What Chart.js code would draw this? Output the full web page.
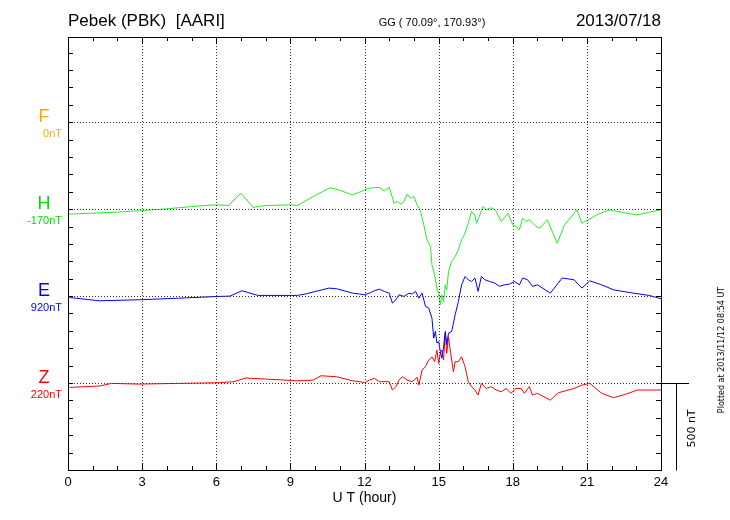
<!DOCTYPE html>
<html><head><meta charset="utf-8">
<script src="https://cdn.jsdelivr.net/npm/chart.js@4/dist/chart.umd.min.js"></script>
<style>html,body{margin:0;background:#fff}#w{width:730px;height:520px}</style></head>
<body><div id="w"><canvas id="c"></canvas></div>
<script>
const xTicks=[0,3,6,9,12,15,18,21,24];
const hH=[0,1,2,3,4,5,6,6.5,7,7.5,8,9,9.3,9.8,10.6,11,11.5,11.8,12,12.2,12.6,12.8,13,13.2,13.33,13.47,13.6,13.73,13.87,14,14.13,14.27,14.4,14.53,14.67,14.73,14.84,14.93,15,15.07,15.13,15.2,15.27,15.33,15.4,15.53,15.67,15.8,15.93,16.07,16.2,16.33,16.47,16.53,16.67,16.8,16.93,17.07,17.2,17.33,17.53,17.67,17.8,18,18.13,18.27,18.4,18.53,18.67,18.87,19,19.1,19.4,19.8,20.1,20.6,20.8,21.4,21.9,23,24];
const vH=[-29,-23,-17,-8,2,15,25,21,92,10,21,25,21,63,123,109,82,98,111,121,125,105,125,35,44,29,44,86,63,73,25,-13,-90,-176,-215,-320,-378,-454,-483,-550,-493,-531,-435,-464,-358,-301,-272,-234,-176,-138,-81,-13,-33,-81,-33,15,-4,6,6,-13,-71,-48,-23,-90,-100,-119,-52,-71,-61,-90,-105,-109,-61,-196,-90,-4,-81,-33,-4,-33,-4];
const hE=[0.06,1.28,2.88,4.48,6.08,6.56,7.04,7.68,9.28,9.6,10.56,10.88,11.52,11.8,12,12.2,12.4,12.6,12.8,13,13.13,13.27,13.4,13.6,13.8,13.93,14.07,14.2,14.33,14.47,14.6,14.73,14.8,14.87,14.93,15,15.07,15.13,15.2,15.27,15.33,15.4,15.53,15.67,15.8,15.93,16.07,16.2,16.33,16.47,16.6,16.73,16.87,17.07,17.27,17.47,17.67,17.87,18.07,18.27,18.4,18.6,18.8,19,19.52,20.0,20.48,20.8,21.12,21.6,22.08,22.88,23.52,24];
const vE=[-8,-27,-21,-12,-2,0,31,4,4,12,46,42,17,12,8,17,31,40,27,17,-40,-21,8,-2,17,12,27,-12,17,-59,-69,-127,-242,-203,-270,-261,-318,-357,-289,-203,-280,-213,-203,-107,-31,65,113,94,84,104,27,113,94,84,75,56,65,69,84,65,104,94,56,65,17,104,94,46,88,65,36,17,4,-15];
const hZ=[0.06,1.28,1.76,2.88,4.48,6.08,6.72,7.2,8.0,9.28,9.92,10.24,10.88,11.52,11.8,12,12.2,12.4,12.6,12.8,13,13.13,13.27,13.4,13.53,13.73,13.93,14.13,14.2,14.33,14.47,14.6,14.73,14.84,14.93,15,15.07,15.13,15.2,15.27,15.33,15.4,15.47,15.6,15.67,15.8,15.93,16.07,16.2,16.33,16.47,16.6,16.73,16.93,17.13,17.33,17.53,17.73,17.93,18.13,18.33,18.47,18.67,18.8,19,19.52,19.84,20.48,20.8,21.12,21.6,22.08,22.56,23.04,24];
const vZ=[-25,-17,-2,-6,-2,2,8,29,23,13,17,42,36,13,8,2,17,27,8,8,8,-40,-21,17,36,17,8,33,-12,75,94,132,151,123,190,113,171,190,132,286,171,266,190,65,123,123,151,94,8,-21,-40,-69,-2,-31,-21,-40,-50,-31,-59,-31,-31,-59,-21,-69,-59,-98,-56,-31,-12,-2,-59,-84,-65,-40,-40];
const labels=[{n:'F',v:'0nT',c:'#ffaa00',b:4},{n:'H',v:'-170nT',c:'#00dd00',b:3},{n:'E',v:'920nT',c:'#0000ff',b:2},{n:'Z',v:'220nT',c:'#ff0000',b:1}];
const mk=(h,v,b)=>h.map((x,i)=>({x,y:b+v[i]/500}));
const deco={id:'deco',afterDraw(ch){
 const c=ch.ctx,a=ch.chartArea,xs=ch.scales.x,ys=ch.scales.y;
 c.save();c.strokeStyle='#000';c.lineWidth=1;
 c.strokeRect(a.left+.5,a.top+.5,a.right-a.left,a.bottom-a.top);
 c.setLineDash([1,2]);c.strokeStyle='#333';
 for(const t of xTicks){if(t==0||t==24)continue;const x=Math.round(xs.getPixelForValue(t))+.5;c.beginPath();c.moveTo(x,a.top);c.lineTo(x,a.bottom);c.stroke();}
 for(const l of labels){const y=Math.round(ys.getPixelForValue(l.b))+.5;c.beginPath();c.moveTo(a.left,y);c.lineTo(a.right,y);c.stroke();}
 c.setLineDash([]);c.strokeStyle='#000';
 for(let h=0;h<=24;h++){const x=Math.round(xs.getPixelForValue(h))+.5,L=h%3==0?7:4;c.beginPath();c.moveTo(x,a.top);c.lineTo(x,a.top+L);c.moveTo(x,a.bottom);c.lineTo(x,a.bottom-L);c.stroke();}
 for(let v=0;v<=4.98;v+=0.2){const y=Math.round(ys.getPixelForValue(v))+.5;c.beginPath();c.moveTo(a.left,y);c.lineTo(a.left+5,y);c.moveTo(a.right,y);c.lineTo(a.right-5,y);c.stroke();}
 const yz=Math.round(ys.getPixelForValue(1))+.5,y0=Math.round(ys.getPixelForValue(0))+.5;
 c.beginPath();c.moveTo(a.right,yz);c.lineTo(a.right+28,yz);c.moveTo(a.right+15.5,yz);c.lineTo(a.right+15.5,y0);c.stroke();
 c.fillStyle='#000';c.font='11px "DejaVu Sans"';
 c.save();c.translate(a.right+31,y0-42);c.rotate(-Math.PI/2);c.textAlign='center';c.textBaseline='middle';c.fillText('500 nT',0,0);c.restore();
 c.save();c.translate(722,350);c.rotate(-Math.PI/2);c.font='8px "DejaVu Sans"';c.textAlign='center';c.textBaseline='middle';c.fillText('Plotted at 2013/11/12 08:54 UT',0,0);c.restore();
 c.font='13px "Liberation Sans"';c.textAlign='center';c.textBaseline='top';
 for(const t of xTicks)c.fillText(String(t),xs.getPixelForValue(t),a.bottom+6);
 c.font='14px "Liberation Sans"';c.fillText('U T (hour)',xs.getPixelForValue(12),a.bottom+21);
 c.textBaseline='alphabetic';c.textAlign='left';c.font='17px "Liberation Sans"';c.fillText('Pebek (PBK)  [AARI]',68,26);
 c.textAlign='right';c.fillText('2013/07/18',a.right,26);
 c.textAlign='center';c.font='11px "Liberation Sans"';c.fillText('GG ( 70.09°, 170.93°)',432,26);
 for(const l of labels){const y=ys.getPixelForValue(l.b);c.fillStyle=l.c;c.textAlign='center';c.font='18px "Liberation Sans"';c.fillText(l.n,44,y);c.textAlign='right';c.font='11px "Liberation Sans"';c.fillText(l.v,62,y+15);}
 c.restore();}};
new Chart(document.getElementById('c'),{type:'line',
 data:{datasets:[
  {data:mk(hH,vH,3),borderColor:'#22ee22'},
  {data:mk(hE,vE,2),borderColor:'#0000ff'},
  {data:mk(hZ,vZ,1),borderColor:'#ff0000'}]},
 options:{responsive:true,maintainAspectRatio:false,animation:false,
  elements:{point:{radius:0},line:{borderWidth:1,tension:0}},
  layout:{padding:{left:68,right:69,top:37,bottom:50}},
  plugins:{legend:{display:false},tooltip:{enabled:false}},
  scales:{x:{type:'linear',min:0,max:24,display:false},y:{min:0,max:4.98,display:false}}},
 plugins:[deco]});
</script></body></html>
